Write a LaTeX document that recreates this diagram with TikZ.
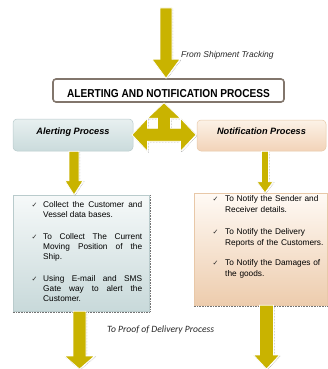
\documentclass[tikz,border=0pt]{standalone}
\usepackage{fontspec}
\usepackage{graphicx}
\setmainfont{Liberation Sans}
\newfontfamily\calfont{Carlito}
\newfontfamily\symfont{DejaVu Sans}
\usetikzlibrary{calc}
\definecolor{arrowyel}{RGB}{201,179,0}
\definecolor{titleborder}{RGB}{130,118,108}
\definecolor{alerttop}{RGB}{232,240,240}
\definecolor{alertbot}{RGB}{202,219,220}
\definecolor{alertedge}{RGB}{185,203,204}
\definecolor{notiftop}{RGB}{252,242,231}
\definecolor{notifbot}{RGB}{242,211,184}
\definecolor{notifedge}{RGB}{232,200,168}
\definecolor{llisttop}{RGB}{246,249,249}
\definecolor{llistbot}{RGB}{200,217,218}
\definecolor{rlisttop}{RGB}{255,250,245}
\definecolor{rlistbot}{RGB}{237,204,173}
\tikzset{
  yarrow/.style={fill=arrowyel, draw=white, line width=0.7pt,
    preaction={draw=black!40, densely dotted, line width=0.5pt,
      transform canvas={xshift=0.9pt,yshift=-0.9pt}}},
  mainbox/.style={draw=titleborder, line width=1.6pt, rounded corners=3pt, fill=white,
    minimum width=231pt, minimum height=23pt, inner sep=0pt,
    text height=14.4pt, text depth=0pt, font=\bfseries\fontsize{11.5}{12}\selectfont},
  procbox/.style={rounded corners=4pt, line width=0.5pt, inner sep=0pt,
    text height=6pt, text depth=8pt, font=\bfseries\itshape\fontsize{9.2}{10}\selectfont},
  listbox/.style={line width=0.4pt, inner sep=0pt},
  boxshadow/.style={draw=black!55, densely dotted, line width=0.6pt},
  ltext/.style={anchor=north west, inner sep=0pt, text width=99pt, align=justify,
    font=\fontsize{8.3}{10}\selectfont},
  rtext/.style={anchor=north west, inner sep=0pt, text width=102pt, align=left,
    font=\fontsize{8.3}{10.7}\selectfont},
  chk/.style={anchor=base, inner sep=0pt, font=\symfont\fontsize{7}{8}\selectfont, text=black!85},
  note/.style={anchor=base west, inner sep=0pt, text=black!85},
}
\newcommand\downblock[6]{%
  \path[yarrow] let \p1=(#1), \p2=(#2) in
   (\x1+#3-#4,\y1) -- (\x1+#3+#4,\y1) -- (\x1+#3+#4,\y2+#6) -- (\x1+#3+#5,\y2+#6)
   -- (\x1+#3,\y2) -- (\x1+#3-#5,\y2+#6) -- (\x1+#3-#4,\y2+#6) -- cycle;}
\begin{document}
\begin{tikzpicture}[x=1pt,y=-1pt]
\useasboundingbox (0,0) rectangle (328,369);

% boxes
\node[mainbox] (main) at (168.5,90.5) {\scalebox{0.88}[1]{ALERTING AND NOTIFICATION PROCESS}};
\node[procbox, draw=alertedge, top color=alerttop, bottom color=alertbot,
      minimum width=120pt, minimum height=32pt] (alert) at (73,135) {Alerting Process};
\node[procbox, draw=notifedge, top color=notiftop, bottom color=notifbot,
      minimum width=129pt, minimum height=31pt] (notif) at (261.5,135.5) {Notification Process};
\node[listbox, draw=alertedge, top color=llisttop, bottom color=llistbot,
      minimum width=136pt, minimum height=116pt] (llist) at (81,253) {};
\node[listbox, draw=notifedge, top color=rlisttop, bottom color=rlistbot,
      minimum width=133pt, minimum height=112pt] (rlist) at (260.5,249) {};
\draw[boxshadow] ([yshift=-0.6pt]llist.south west) -- ([xshift=0.6pt,yshift=-0.6pt]llist.south east)
   -- ([xshift=0.6pt]llist.north east);
\draw[boxshadow] ([yshift=-0.6pt]rlist.south west) -- ([yshift=-0.6pt]rlist.south east);

% left list
\node[chk] (lc1) at (34.5,207.3) {✓};
\node[ltext] (li1) at (43,200.3) {\strut Collect the Customer and\linebreak Vessel data bases.};
\node[chk] (lc2) at (34.5,239.3) {✓};
\node[ltext] (li2) at (43,232.3) {\strut To Collect The Current\linebreak Moving Position of the\linebreak Ship.};
\node[chk] (lc3) at (34.5,281.3) {✓};
\node[ltext] (li3) at (43,274.3) {\strut Using E-mail and SMS\linebreak Gate way to alert the\linebreak Customer.};

% right list
\node[chk] (rc1) at (215.5,201.6) {✓};
\node[rtext] (ri1) at (225,194.1) {\strut To Notify the Sender and\\Receiver details.};
\node[chk] (rc2) at (215.5,234.6) {✓};
\node[rtext] (ri2) at (225,227.1) {\strut To Notify the Delivery\\Reports of the Customers.};
\node[chk] (rc3) at (215.5,265.6) {✓};
\node[rtext] (ri3) at (225,258.1) {\strut To Notify the Damages of\\the goods.};

% notes
\node[note, font=\itshape\fontsize{8.5}{10}\selectfont] (fromnote) at (181,57) {From Shipment Tracking};
\node[note, font=\calfont\itshape\fontsize{9.6}{11}\selectfont] (tonote) at (107,332.5) {To Proof of Delivery Process};

% arrows
\coordinate (topstart) at (166,8);
\coordinate (blend) at (79.5,369);
\coordinate (brend) at (266.5,369);
\downblock{topstart}{main.north}{0pt}{6pt}{14pt}{19pt}
\downblock{alert.south}{llist.north}{1pt}{5pt}{9pt}{14pt}
\downblock{notif.south}{rlist.north}{3.5pt}{3.5pt}{8pt}{11pt}
\downblock{llist.south}{blend}{0pt-1.5pt}{6.5pt}{15pt}{13pt}
\downblock{rlist.south}{brend}{6pt}{7pt}{13pt}{14pt}

\coordinate (hub) at ($(main.south)+(-4.5,32)$);
\draw[yarrow, shift={(hub)}]
  (-32,0) -- (-16.5,-16.5) -- (-16.5,-6.5) -- (-6.5,-6.5) -- (-6.5,-16.5) -- (-16.5,-16.5)
  -- (0,-32) -- (16.5,-16.5) -- (6.5,-16.5) -- (6.5,-6.5) -- (16.5,-6.5) -- (16.5,-16.5)
  -- (32,0) -- (16.5,16.5) -- (16.5,6.5) -- (-16.5,6.5) -- (-16.5,16.5) -- cycle;
\end{tikzpicture}
\end{document}
